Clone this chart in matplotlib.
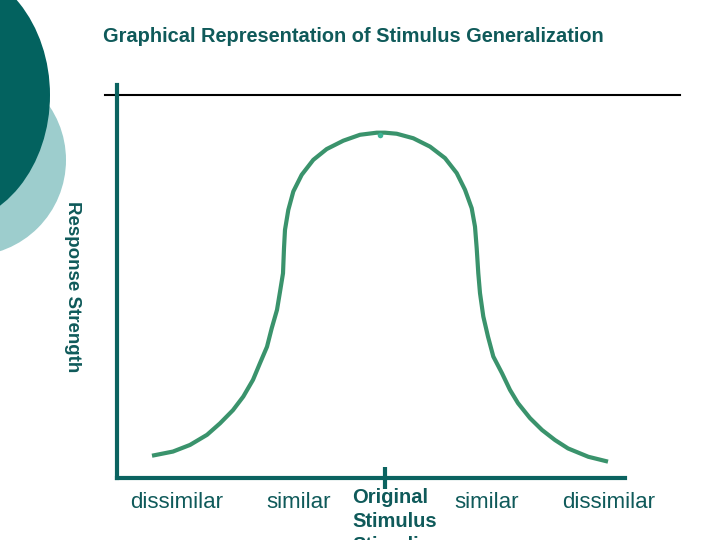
import numpy as np
import matplotlib
matplotlib.use('Agg')
import matplotlib.pyplot as plt
from matplotlib.patches import Ellipse

plt.rcParams['font.family'] = ['Liberation Sans', 'DejaVu Sans']

# curve: distance from the original stimulus vs response strength
gen_x = [-2.33, -2.12, -1.95, -1.78, -1.65, -1.52, -1.417, -1.32, -1.25, -1.18,
         -1.133, -1.08, -1.05, -1.02, -1.01, -1.0, -0.967, -0.917, -0.833, -0.717,
         -0.583, -0.417, -0.25, -0.083, 0.0, 0.117, 0.283, 0.45, 0.60, 0.717,
         0.80, 0.867, 0.90, 0.917, 0.933, 0.95, 0.983, 1.03, 1.083, 1.17,
         1.25, 1.33, 1.45, 1.57, 1.70, 1.83, 2.033, 2.23]
gen_y = [0.064, 0.076, 0.095, 0.124, 0.157, 0.195, 0.234, 0.282, 0.330, 0.377,
         0.430, 0.483, 0.535, 0.588, 0.660, 0.713, 0.770, 0.823, 0.871, 0.914,
         0.945, 0.969, 0.986, 0.992, 0.992, 0.989, 0.976, 0.952, 0.919, 0.876,
         0.828, 0.775, 0.722, 0.660, 0.588, 0.531, 0.464, 0.406, 0.349, 0.301,
         0.253, 0.215, 0.172, 0.138, 0.109, 0.085, 0.061, 0.047]
peak = (-0.05, 0.985)

cat_labels = ['dissimilar', 'similar', 'similar', 'dissimilar']
cat_pos = [-2.085, -0.86, 1.015, 2.235]
orig_lines = ['Original', 'Stimulus', 'Stimuli']

title = 'Graphical Representation of Stimulus Generalization'
ylabel = 'Response Strength'

dark = '#03625f'
light = '#9dcdcd'
axis_col = '#0b6360'
curve_col = '#3a936c'
text_col = '#0f5a5a'

fig = plt.figure(figsize=(7.2, 5.4), dpi=100)

# slide decoration (pixel coords)
bg = fig.add_axes([0, 0, 1, 1])
bg.set_xlim(0, 720)
bg.set_ylim(540, 0)
bg.axis('off')
bg.add_patch(Ellipse((-30, 160), 192, 192, color=light, lw=0))
bg.add_patch(Ellipse((-55, 95), 210, 260, color=dark, lw=0))
bg.plot([105, 680], [95, 95], color='black', lw=1.5)

ax = fig.add_axes([117 / 720, 62 / 540, 508 / 720, 393 / 540])
ax.set_xlim(-2.68, 2.40)
ax.set_ylim(0, 1.129)
ax.patch.set_alpha(0)
for s in ['top', 'right']:
    ax.spines[s].set_visible(False)
for s in ['left', 'bottom']:
    ax.spines[s].set_color(axis_col)
    ax.spines[s].set_linewidth(3)
ax.set_yticks([])
ax.set_xticks([0])
ax.set_xticklabels([''])
ax.tick_params(axis='x', direction='inout', length=16, width=3, color=axis_col)

ax.plot(gen_x, gen_y, color=curve_col, lw=3, solid_capstyle='butt',
        solid_joinstyle='round', clip_on=False)
ax.plot(*peak, 'o', color='#3cb595', ms=4, mec='none', clip_on=False)

for lab, xp in zip(cat_labels, cat_pos):
    ax.text(xp, -0.086, lab, ha='center', va='baseline', fontsize=16,
            color=text_col, clip_on=False)
for i, lab in enumerate(orig_lines):
    ax.text(-0.33, -0.072 - 0.069 * i, lab, ha='left', va='baseline', fontsize=14.5,
            fontweight='bold', color=text_col, clip_on=False)

fig.text(353 / 720, 1 - 36 / 540, title, ha='center', va='center', fontsize=14.4,
         fontweight='bold', color=text_col)
fig.text(72 / 720, 1 - 287 / 540, ylabel, ha='center', va='center', fontsize=13.5,
         fontweight='bold', rotation=-90, color=text_col)

fig.savefig('out.png', dpi=100)
